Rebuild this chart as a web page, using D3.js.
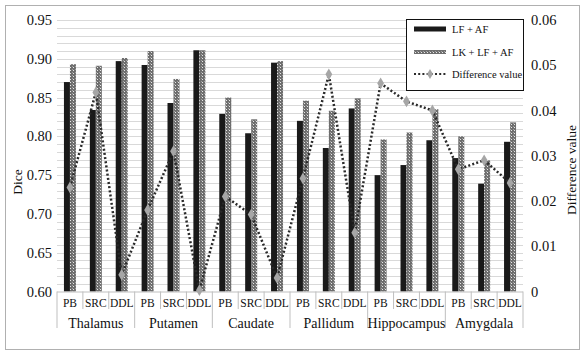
<!DOCTYPE html>
<html><head><meta charset="utf-8">
<script src="https://cdn.jsdelivr.net/npm/d3@7"></script>
</head><body style="margin:0">
<svg id="c" width="583" height="355"></svg>
<script>
const groups = ["Thalamus","Putamen","Caudate","Pallidum","Hippocampus","Amygdala"];
const methods = ["PB","SRC","DDL"];
const lfaf =   [0.870,0.834,0.897, 0.892,0.843,0.911, 0.829,0.804,0.895, 0.820,0.785,0.836, 0.750,0.763,0.795, 0.772,0.739,0.793];
const lklfaf = [0.893,0.891,0.901, 0.910,0.874,0.911, 0.850,0.822,0.897, 0.846,0.833,0.849, 0.796,0.805,0.835, 0.800,0.769,0.818];
const diffv =  [0.023,0.044,0.0037, 0.018,0.031,0.0003, 0.021,0.017,0.003, 0.025,0.048,0.013, 0.046,0.042,0.040, 0.027,0.029,0.024];
const leftTicks = [0.60,0.65,0.70,0.75,0.80,0.85,0.90,0.95];
const rightTicks = [0,0.01,0.02,0.03,0.04,0.05,0.06];
const seriesNames = ["LF + AF","LK + LF + AF","Difference value"];

const svg = d3.select("#c");
const X0 = 57, X1 = 523, YT = 20, YB = 291.5;
const keys = [];
groups.forEach(g => methods.forEach(m => keys.push(g + "|" + m)));
const x = d3.scaleBand().domain(keys).range([X0, X1]).padding(0);
const y = d3.scaleLinear().domain([0.60, 0.95]).range([YB, YT]);
const y2 = d3.scaleLinear().domain([0, 0.06]).range([YB, YT]);

svg.append("rect").attr("x",5.5).attr("y",5.5).attr("width",574).attr("height",344)
  .attr("fill","#fff").attr("stroke","#b0b0b0");

const defs = svg.append("defs");
const pat = defs.append("pattern").attr("id","chk").attr("patternUnits","userSpaceOnUse")
  .attr("width",3).attr("height",3);
pat.append("rect").attr("width",3).attr("height",3).attr("fill","#6e6e6e");
pat.append("rect").attr("x",1).attr("y",1).attr("width",1).attr("height",1).attr("fill","#e8e8e8");
pat.append("rect").attr("x",0).attr("y",0).attr("width",1).attr("height",1).attr("fill","#a0a0a0");

const grid = d3.range(61, 96).map(v => v / 100);
svg.append("g").selectAll("line").data(grid).join("line")
  .attr("x1",X0).attr("x2",X1).attr("y1",d=>Math.round(y(d))+0.5).attr("y2",d=>Math.round(y(d))+0.5)
  .attr("stroke","#d9d9d9").attr("stroke-width",1);

const T = (sel) => sel.style("font-family", d => '"Liberation Serif"').attr("fill","#111");

T(svg.append("g").selectAll("text").data(leftTicks).join("text"))
  .attr("x",52).attr("y",d=>y(d)).attr("dy","0.35em").attr("text-anchor","end")
  .attr("font-size","14.5px").text(d=>d3.format(".2f")(d));
T(svg.append("g").selectAll("text").data(rightTicks).join("text"))
  .attr("x",531).attr("y",d=>y2(d)).attr("dy","0.35em").attr("text-anchor","start")
  .attr("font-size","14.5px").text(d=>d===0?"0":d3.format(".2f")(d));

T(svg.append("text")).attr("transform","translate(17,182) rotate(-90)").attr("text-anchor","middle")
  .attr("dy","0.35em").attr("font-size","13.5px").text("Dice");
T(svg.append("text")).attr("transform","translate(571,170) rotate(-90)").attr("text-anchor","middle")
  .attr("dy","0.35em").attr("font-size","13.5px").text("Difference value");

const bw = 6;
svg.append("g").selectAll("rect").data(lfaf).join("rect")
  .attr("x",(d,i)=>x(keys[i]) + x.bandwidth()/2 - bw).attr("width",bw)
  .attr("y",d=>y(d)).attr("height",d=>YB - y(d)).attr("fill","#1a1a1a");
svg.append("g").selectAll("rect").data(lklfaf).join("rect")
  .attr("x",(d,i)=>x(keys[i]) + x.bandwidth()/2).attr("width",bw)
  .attr("y",d=>y(d)).attr("height",d=>YB - y(d)).attr("fill","url(#chk)");

svg.append("line").attr("x1",X0).attr("x2",X1).attr("y1",YB+0.5).attr("y2",YB+0.5).attr("stroke","#bfbfbf");
const bounds = d3.range(0, keys.length + 1);
svg.append("g").selectAll("line").data(bounds).join("line")
  .attr("x1",i=> (i<keys.length? x(keys[i]) : X1)).attr("x2",i=> (i<keys.length? x(keys[i]) : X1))
  .attr("y1",YB).attr("y2",i=> i%3===0 ? 328 : 309)
  .attr("stroke","#bfbfbf").attr("stroke-width",1);
T(svg.append("g").selectAll("text").data(keys).join("text"))
  .attr("x",k=>x(k)+x.bandwidth()/2).attr("y",303).attr("dy","0.35em").attr("text-anchor","middle")
  .attr("font-size","11.5px").text(k=>k.split("|")[1]);
T(svg.append("g").selectAll("text").data(groups).join("text"))
  .attr("x",g=>(x(g+"|PB") + x(g+"|DDL") + x.bandwidth())/2).attr("y",323).attr("dy","0.35em")
  .attr("text-anchor","middle").attr("font-size","14px").text(g=>g);

const line = d3.line().x((d,i)=>x(keys[i]) + x.bandwidth()/2).y(d=>y2(d));
svg.append("path").datum(diffv).attr("d",line).attr("fill","none").attr("stroke","#2a2a2a")
  .attr("stroke-width",2.5).attr("stroke-dasharray","2 2.2");
const sym = d3.symbol().type(d3.symbolDiamond).size(40);
svg.append("g").selectAll("path").data(diffv).join("path")
  .attr("transform",(d,i)=>`translate(${x(keys[i]) + x.bandwidth()/2},${y2(d)})`)
  .attr("d",sym).attr("fill","#a6a6a6");

const lg = svg.append("g");
lg.append("rect").attr("x",406.5).attr("y",19.5).attr("width",117).attr("height",71)
  .attr("fill","#fff").attr("stroke","#111").attr("stroke-width",1);
const ly = [29, 52, 74];
lg.append("rect").attr("x",414).attr("y",ly[0]-2.5).attr("width",32).attr("height",5).attr("fill","#1a1a1a");
lg.append("rect").attr("x",414).attr("y",ly[1]-2).attr("width",32).attr("height",4).attr("fill","url(#chk)");
lg.append("line").attr("x1",414).attr("x2",446).attr("y1",ly[2]).attr("y2",ly[2]).attr("stroke","#2a2a2a")
  .attr("stroke-width",2.2).attr("stroke-dasharray","2 2.2");
lg.append("path").attr("transform",`translate(430,${ly[2]})`).attr("d",d3.symbol().type(d3.symbolDiamond).size(30)).attr("fill","#a6a6a6");
T(lg.selectAll("text.lt").data(seriesNames).join("text")).attr("class","lt")
  .attr("x",452).attr("y",(d,i)=>ly[i]).attr("dy","0.35em").attr("font-size","10.5px").text(d=>d);
</script></body></html>
